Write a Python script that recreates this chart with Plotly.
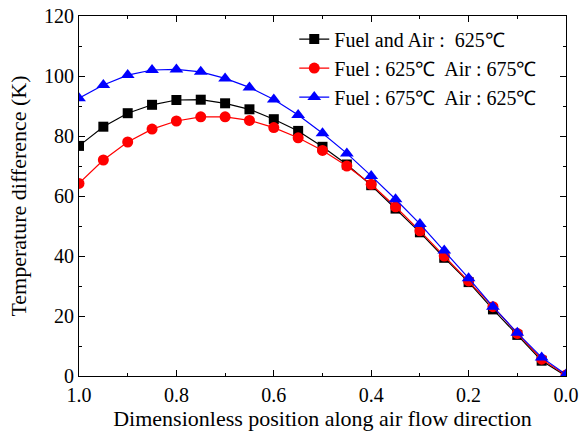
import plotly.graph_objects as go

# Dimensionless position along the air flow direction (inlet at 1.0, outlet at 0.0)
position = [1.0, 0.95, 0.9, 0.85, 0.8, 0.75, 0.7, 0.65, 0.6, 0.55, 0.5,
            0.45, 0.4, 0.35, 0.3, 0.25, 0.2, 0.15, 0.1, 0.05, 0.0]

# Temperature difference (K) for each inlet-temperature case
fuel_air_625 = [76.7, 83.1, 87.6, 90.4, 92.0, 92.1, 90.9, 88.9, 85.6, 81.7, 76.4,
                70.5, 63.6, 55.8, 47.9, 39.4, 31.3, 22.2, 13.7, 5.1, 0.0]
fuel_625_air_675 = [64.2, 72.0, 78.0, 82.3, 85.0, 86.4, 86.4, 85.2, 82.8, 79.4, 75.2,
                    70.0, 63.9, 56.4, 48.4, 40.0, 31.7, 23.1, 14.2, 5.6, 0.3]
fuel_675_air_625 = [92.6, 97.0, 100.3, 102.0, 102.2, 101.4, 99.2, 96.2, 92.2, 87.0, 80.9,
                    74.2, 66.7, 58.9, 50.7, 41.8, 32.6, 23.1, 14.4, 6.2, 0.5]

series_names = ["Fuel and Air :  625\u2103",
                "Fuel : 625\u2103  Air : 675\u2103",
                "Fuel : 675\u2103  Air : 625\u2103"]

x_tick_vals = [1.0, 0.8, 0.6, 0.4, 0.2, 0.0]
x_tick_text = ["1.0", "0.8", "0.6", "0.4", "0.2", "0.0"]

FONT = "Liberation Serif, Times New Roman, serif"

fig = go.Figure()
styles = [
    (fuel_air_625, "black", "square", 10),
    (fuel_625_air_675, "red", "circle", 11),
    (fuel_675_air_625, "blue", "triangle-up", 12),
]
for (vals, color, symbol, size), name in zip(styles, series_names):
    fig.add_trace(go.Scatter(
        x=position, y=vals, name=name, mode="lines+markers",
        line=dict(color=color, width=1.2),
        marker=dict(color=color, symbol=symbol, size=size, line=dict(width=0)),
    ))

axis_common = dict(
    showline=True, linecolor="black", linewidth=1.2, mirror="ticks",
    ticks="inside", ticklen=6, tickwidth=1, tickcolor="black",
    showgrid=False, zeroline=False, automargin=False,
    tickfont=dict(family=FONT, size=20, color="black"),
)

fig.update_xaxes(
    range=[1.0, 0.0], tickmode="array",
    tickvals=x_tick_vals, ticktext=x_tick_text,
    ticklabelstandoff=1,
    minor=dict(ticks="inside", ticklen=3, dtick=0.1, tickcolor="black", showgrid=False),
    title=dict(text="Dimensionless position along air flow direction",
               font=dict(family=FONT, size=22, color="black"), standoff=4),
    **axis_common,
)
fig.update_yaxes(
    range=[0, 120], tickmode="linear", tick0=0, dtick=20,
    minor=dict(ticks="inside", ticklen=3, dtick=10, tickcolor="black", showgrid=False),
    title=dict(text="Temperature difference (K)",
               font=dict(family=FONT, size=22, color="black"), standoff=11),
    **axis_common,
)

fig.update_layout(
    width=580, height=435,
    margin=dict(l=79, r=14, t=16, b=59),
    paper_bgcolor="white", plot_bgcolor="white",
    font=dict(family=FONT, size=20, color="black"),
    legend=dict(x=0.442, y=0.99, xanchor="left", yanchor="top",
                bgcolor="rgba(0,0,0,0)", borderwidth=0,
                font=dict(family=FONT, size=20, color="black"),
                tracegroupgap=0),
    showlegend=True,
)

fig.write_html("out.html")
